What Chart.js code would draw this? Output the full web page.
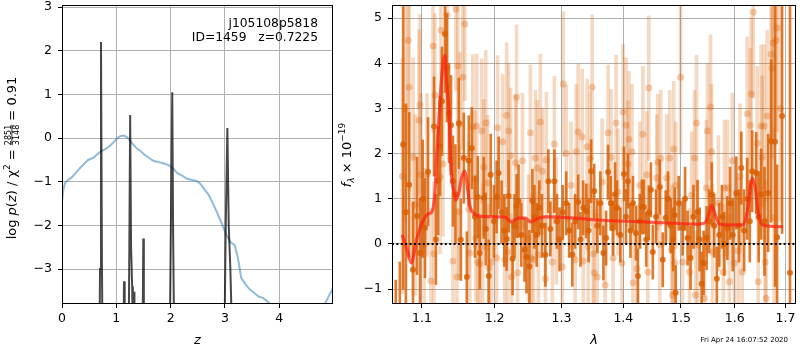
<!DOCTYPE html>
<html>
<head>
<meta charset="utf-8">
<script src="https://cdn.jsdelivr.net/npm/chart.js@4/dist/chart.umd.min.js"></script>
<style>
  html, body { margin: 0; padding: 0; background: #fff; }
  #wrap { position: relative; width: 800px; height: 350px; }
  canvas { position: absolute; top: 0; }
</style>
</head>
<body>
<div id="wrap">
  <canvas id="pz" width="335" height="350" style="left:0;width:335px;height:350px"></canvas>
  <canvas id="spec" width="465" height="350" style="left:335px;width:465px;height:350px"></canvas>
</div>
<script>
// ---- redshift panel: log p(z) and the smooth chi2 curve ----
const zGrid = [0, 0.03, 0.06, 0.12, 0.18, 0.25, 0.32, 0.4, 0.48, 0.58,
  0.64, 0.72, 0.8, 0.88, 0.96, 1.02, 1.08, 1.14, 1.2, 1.26,
  1.32, 1.38, 1.45, 1.52, 1.6, 1.68, 1.78, 1.88, 1.98, 2.05,
  2.12, 2.2, 2.3, 2.4, 2.48, 2.55, 2.62, 2.7, 2.78, 2.86,
  2.94, 3.02, 3.1, 3.18, 3.24, 3.3, 3.38, 3.46, 3.54, 3.62,
  3.7, 3.78, 3.86, 3.95, 4.2, 4.5, 4.84, 4.99];
const chiCurve = [-1.45, -1.15, -1.02, -0.95, -0.9, -0.8, -0.7, -0.6, -0.5, -0.45,
  -0.38, -0.3, -0.25, -0.18, -0.08, 0.0, 0.05, 0.06, 0.02, -0.07,
  -0.16, -0.24, -0.3, -0.38, -0.45, -0.52, -0.55, -0.58, -0.63, -0.7,
  -0.8, -0.85, -0.93, -0.96, -0.98, -1.05, -1.17, -1.3, -1.5, -1.72,
  -1.95, -2.2, -2.38, -2.45, -2.75, -3.2, -3.35, -3.47, -3.55, -3.63,
  -3.66, -3.74, -3.83, -3.95, -4.3, -4.4, -3.8, -3.43];

const zFine = [0.00, 0.60, 0.685, 0.70, 0.718, 0.736, 0.752, 0.85, 1.12, 1.135,
  1.142, 1.149, 1.16, 1.20, 1.225, 1.240, 1.255, 1.272, 1.292, 1.305,
  1.318, 1.326, 1.334, 1.345, 1.45, 1.487, 1.497, 1.507, 1.55, 1.90,
  1.985, 2.005, 2.03, 2.045, 2.065, 2.20, 2.95, 2.995, 3.015, 3.045,
  3.07, 3.10, 3.125, 3.25, 4.99];
const logPz = [-12, -9, -5.5, -3.0, 2.2, -3.0, -5.5, -9, -6, -4.2,
  -3.28, -4.2, -6, -7, -5.0, -2.5, 0.53, -2.5, -3.4, -4.6,
  -4.2, -3.52, -4.2, -6, -6, -4.0, -2.3, -4.0, -7, -7,
  -4.6, -2.0, 1.05, -2.0, -4.6, -8, -8, -4.2, -2.0, 0.23,
  -2.0, -3.0, -4.2, -8, -14];

const zTicks = [0, 1, 2, 3, 4];
const pzTicks = [-3, -2, -1, 0, 1, 2, 3];

// ---- spectrum panel ----
const lamDark = [
  1.0660, 1.0712, 1.0755, 1.0790, 1.0832, 1.0882, 1.0934, 1.0974, 1.1010, 1.1040, 1.1080, 1.1160,
  1.1185, 1.1215, 1.1240, 1.1266, 1.1307, 1.1334, 1.1362, 1.1389, 1.1416, 1.1450, 1.1496, 1.1524,
  1.1565, 1.1607, 1.1634, 1.1676, 1.1720, 1.1760, 1.1788, 1.1845, 1.1873, 1.1916, 1.1944, 1.1990,
  1.2029, 1.2058, 1.2100, 1.2140, 1.2174, 1.2203, 1.2261, 1.2290, 1.2320, 1.2349, 1.2390, 1.2437,
  1.2467, 1.2511, 1.2556, 1.2586, 1.2620, 1.2660, 1.2700, 1.2752, 1.2798, 1.2828, 1.2890, 1.2930,
  1.2970, 1.3020, 1.3075, 1.3120, 1.3170, 1.3215, 1.3263, 1.3300, 1.3343, 1.3391, 1.3430, 1.3471,
  1.3520, 1.3570, 1.3620, 1.3670, 1.3714, 1.3747, 1.3790, 1.3829, 1.3862, 1.3895, 1.3950, 1.4011,
  1.4045, 1.4078, 1.4120, 1.4162, 1.4213, 1.4247, 1.4280, 1.4315, 1.4349, 1.4390, 1.4434, 1.4470,
  1.4503, 1.4560, 1.4624, 1.4677, 1.4729, 1.4770, 1.4817, 1.4860, 1.4888, 1.4906, 1.4960, 1.5031,
  1.5075, 1.5120, 1.5174, 1.5227, 1.5301, 1.5340, 1.5376, 1.5413, 1.5469, 1.5515, 1.5564, 1.5610,
  1.5659, 1.5705, 1.5755, 1.5800, 1.5858, 1.5910, 1.5960, 1.6029, 1.6080, 1.6125, 1.6180, 1.6240,
  1.6290, 1.6337, 1.6415, 1.6465, 1.6512, 1.6580, 1.6652, 1.6711, 1.6791, 1.6831, 1.6932, 1.7093];
const fluxDark = [
  -2.2, -1.9, 2.2, 0.7, 1.31, -0.57, 0.62, -0.2, 1.0, 0.35, 1.6, 2.6,
  0.1, 1.4, 2.17, 3.16, 4.65, 3.9, 2.9, 2.63, 1.39, 1.1, 2.67, 0.09,
  1.9, -0.73, 1.84, 2.12, 0.6, 1.04, -0.2, 1.02, 0.33, -0.71, 1.53, 0.5,
  1.04, 1.57, 0.7, 0.3, 0.11, 1.06, -0.33, 0.4, 0.84, 0.95, 0.2, -0.13,
  -0.29, -0.5, 0.95, 0.6, 0.2, 0.8, 0.4, -0.24, 1.39, 0.33, 1.39, 0.5,
  0.1, 0.7, 0.9, 0.3, -0.24, 0.5, 0.93, 0.1, 0.8, 0.73, 0.3, 1.61,
  1.17, 0.4, 0.9, -0.2, 0.13, 1.59, 0.9, 0.35, 1.1, 0.8, 0.2, 1.55,
  0.6, 1.39, 0.3, 0.9, 0.24, -0.71, 0.5, 0.82, 0.82, 0.1, 0.69, 1.2,
  -0.18, 0.6, 1.26, -0.35, 0.58, 1.0, 0.4, 0.1, 0.64, -1.08, 0.9, 0.35,
  1.0, 0.13, -0.31, 0.6, 0.71, 0.1, -0.88, -0.42, 0.13, 0.5, 1.1, 0.4,
  -0.77, 0.2, 0.6, 0.0, 0.35, 0.9, 0.2, 1.13, 0.4, 1.68, 0.3, 1.0,
  0.5, 1.61, 1.57, 0.6, 1.1, 0.5, 1.13, 2.28, 2.26, 0.15, 2.83, -0.64];
const errDark = [
  1.4, 1.5, 3.2, 2.4, 1.6, 1.5, 1.3, 1.2, 1.3, 1.1, 1.2, 1.1,
  1.0, 1.2, 1.1, 1.2, 1.3, 1.2, 1.1, 1.1, 1.0, 1.1, 1.0, 0.9,
  1.0, 1.0, 1.0, 0.9, 0.9, 0.9, 0.8, 0.9, 0.8, 0.8, 0.9, 0.8,
  0.8, 0.8, 0.7, 0.8, 0.7, 0.8, 0.8, 0.7, 0.7, 0.8, 0.7, 0.7,
  0.8, 0.8, 0.7, 0.7, 0.7, 0.6, 0.7, 0.7, 0.7, 0.6, 0.7, 0.6,
  0.7, 0.6, 0.7, 0.6, 0.7, 0.6, 0.6, 0.6, 0.6, 0.6, 0.7, 0.7,
  0.6, 0.6, 0.7, 0.6, 0.6, 0.6, 0.6, 0.6, 0.7, 0.6, 0.6, 0.6,
  0.6, 0.6, 0.6, 0.6, 0.6, 0.6, 0.6, 0.6, 0.6, 0.6, 0.6, 0.6,
  0.6, 0.6, 0.6, 0.6, 0.6, 0.6, 0.6, 0.7, 0.6, 0.6, 0.6, 0.6,
  0.7, 0.6, 0.7, 0.7, 0.7, 0.7, 0.7, 0.7, 0.7, 0.7, 0.7, 0.7,
  0.7, 0.7, 0.7, 0.7, 0.7, 0.8, 0.8, 0.8, 0.8, 0.8, 0.9, 0.9,
  0.9, 0.9, 0.9, 1.0, 1.0, 1.2, 1.3, 1.8, 3.2, 1.6, 2.6, 6.5];

const lamLight = [
  1.0745, 1.0780, 1.0819, 1.0832, 1.0884, 1.0910, 1.0961, 1.0974, 1.0987, 1.1027, 1.1066, 1.1119,
  1.1146, 1.1159, 1.1172, 1.1239, 1.1253, 1.1280, 1.1334, 1.1416, 1.1456, 1.1470, 1.1483, 1.1497,
  1.1510, 1.1551, 1.1579, 1.1634, 1.1648, 1.1690, 1.1718, 1.1732, 1.1746, 1.1760, 1.1788, 1.1816,
  1.1830, 1.1845, 1.1873, 1.1901, 1.1916, 1.1958, 1.2029, 1.2043, 1.2116, 1.2145, 1.2174, 1.2188,
  1.2203, 1.2232, 1.2246, 1.2305, 1.2319, 1.2334, 1.2407, 1.2496, 1.2526, 1.2541, 1.2571, 1.2601,
  1.2631, 1.2646, 1.2676, 1.2707, 1.2752, 1.2767, 1.2859, 1.2890, 1.2921, 1.3014, 1.3029, 1.3076,
  1.3150, 1.3216, 1.3232, 1.3263, 1.3327, 1.3343, 1.3407, 1.3423, 1.3455, 1.3487, 1.3503, 1.3519,
  1.3568, 1.3649, 1.3698, 1.3747, 1.3796, 1.3829, 1.3879, 1.3911, 1.3978, 1.3995, 1.4045, 1.4078,
  1.4095, 1.4146, 1.4163, 1.4230, 1.4281, 1.4332, 1.4400, 1.4417, 1.4434, 1.4572, 1.4589, 1.4624,
  1.4642, 1.4747, 1.4800, 1.4835, 1.4853, 1.4871, 1.4888, 1.4906, 1.4995, 1.5031, 1.5156, 1.5193,
  1.5247, 1.5265, 1.5283, 1.5302, 1.5429, 1.5466, 1.5485, 1.5541, 1.5559, 1.5578, 1.5689, 1.5783,
  1.5802, 1.5858, 1.5896, 1.5953, 1.5991, 1.6067, 1.6100, 1.6144, 1.6241, 1.6299, 1.6318, 1.6357,
  1.6435, 1.6454, 1.6513, 1.6533, 1.6572, 1.6592, 1.6612, 1.6632, 1.6711, 1.6731, 1.6751, 1.6771,
  1.6811, 1.6831, 1.6900];
const fluxLight = [
  1.5, 3.0, 4.51, 3.47, 1.92, 0.86, 2.74, 3.08, 1.53, -0.02, 1.53, -0.82,
  4.38, -0.22, 3.3, 1.48, 4.73, 1.77, 5.07, -0.38, 5.2, -0.73, 3.94, 0.71,
  2.65, 3.69, 4.87, 0.77, -0.2, 2.59, 1.44, 0.13, 2.61, -0.4, -0.44, 2.5,
  -0.07, 1.7, 2.68, 1.35, -0.53, -0.4, -0.31, 2.57, 2.26, -0.35, 2.85, -0.18,
  2.5, 1.95, -0.73, 1.8, 3.25, -0.64, 1.84, 0.13, 2.46, -0.31, -0.35, 1.9,
  1.68, -0.24, 2.7, 1.61, -0.77, 1.86, -0.4, 2.21, 0.51, -0.51, 3.54, 2.01,
  1.3, -0.35, 2.04, 2.48, 2.37, -0.38, 2.15, -0.07, 1.88, 3.47, -0.22, -0.64,
  -0.73, 1.37, -0.91, 2.46, 1.92, -0.31, 2.68, 1.15, -0.42, 2.92, 2.63, 1.77,
  2.32, 2.04, -0.86, -0.55, 1.3, 2.43, 1.53, -0.62, 3.45, 1.46, 1.81, -0.02,
  1.9, 1.46, 1.9, -0.11, -1.13, 2.1, -0.42, 1.3, 3.69, -0.4, -0.62, 1.08,
  1.9, -1.13, 2.68, -0.02, -1.2, 1.24, 2.5, 3.03, 2.04, -0.18, 0.9, -0.62,
  1.24, 1.24, -0.84, 1.84, -0.42, -0.15, 1.5, -0.62, 2.88, 2.63, 3.32, 5.13,
  2.23, -0.84, 2.61, 1.92, 2.61, -0.4, -1.2, 2.83, 4.2, 3.89, 4.45, 0.58,
  4.51, 4.78, 3.0];
const errLight = [
  2.6, 2.5, 2.5, 2.3, 2.2, 2.0, 2.0, 2.0, 1.8, 1.7, 1.8, 1.6,
  1.9, 1.6, 1.8, 1.7, 1.8, 1.6, 1.8, 1.5, 1.8, 1.5, 1.7, 1.5,
  1.6, 1.6, 1.7, 1.5, 1.4, 1.6, 1.5, 1.4, 1.6, 1.4, 1.4, 1.6,
  1.4, 1.5, 1.6, 1.5, 1.4, 1.4, 1.4, 1.6, 1.5, 1.4, 1.6, 1.4,
  1.5, 1.5, 1.4, 1.5, 1.6, 1.4, 1.5, 1.4, 1.5, 1.4, 1.4, 1.5,
  1.5, 1.4, 1.5, 1.4, 1.4, 1.5, 1.4, 1.5, 1.4, 1.4, 1.6, 1.5,
  1.4, 1.4, 1.5, 1.5, 1.5, 1.4, 1.5, 1.4, 1.5, 1.6, 1.4, 1.4,
  1.4, 1.4, 1.4, 1.5, 1.5, 1.4, 1.5, 1.4, 1.4, 1.5, 1.5, 1.4,
  1.5, 1.5, 1.4, 1.4, 1.4, 1.5, 1.4, 1.4, 1.6, 1.4, 1.5, 1.4,
  1.5, 1.4, 1.5, 1.4, 1.4, 1.5, 1.4, 1.4, 1.7, 1.4, 1.4, 1.4,
  1.5, 1.4, 1.5, 1.4, 1.5, 1.5, 1.5, 1.6, 1.5, 1.5, 1.5, 1.5,
  1.5, 1.5, 1.5, 1.5, 1.5, 1.6, 1.6, 1.6, 1.7, 1.7, 1.7, 1.9,
  1.7, 1.7, 1.8, 1.8, 1.8, 1.8, 1.8, 1.9, 2.0, 2.0, 2.1, 2.0,
  2.2, 2.3, 2.5];

const lamModel = [1.0742, 1.0800, 1.0858, 1.0935, 1.1013, 1.1079, 1.1132, 1.1172, 1.1199, 1.1239,
  1.1280, 1.1307, 1.1321, 1.1361, 1.1389, 1.1430, 1.1456, 1.1497, 1.1537, 1.1579,
  1.1607, 1.1648, 1.1718, 1.1774, 1.2014, 1.2140, 1.2246, 1.2349, 1.2452, 1.2526,
  1.2646, 1.2767, 1.3232, 1.3568, 1.4366, 1.5320, 1.5429, 1.5503, 1.5559, 1.5633,
  1.5708, 1.5858, 1.6144, 1.6241, 1.6299, 1.6337, 1.6396, 1.6454, 1.6533, 1.6952];
const fluxModel = [0.2, -0.1, -0.42, 0.13, 0.51, 0.66, 0.71, 1.15, 2.04, 3.14,
  4.0, 4.18, 3.8, 2.92, 1.68, 1.15, 0.97, 1.15, 1.48, 1.61,
  1.37, 0.86, 0.66, 0.62, 0.6, 0.6, 0.49, 0.57, 0.57, 0.49,
  0.57, 0.6, 0.57, 0.53, 0.49, 0.44, 0.46, 0.64, 0.86, 0.64,
  0.44, 0.42, 0.42, 0.71, 1.24, 1.46, 1.24, 0.71, 0.42, 0.38];

const lamTicks = [1.1, 1.2, 1.3, 1.4, 1.5, 1.6, 1.7];
const fluxTicks = [-1, 0, 1, 2, 3, 4, 5];
const lamRange = [1.0612, 1.7217];

// ---- shared helpers ----
const FONT = "'DejaVu Sans', sans-serif";
Chart.defaults.font.family = FONT;
Chart.defaults.color = '#000';

const minus = v => (v < 0 ? '\u2212' + Math.abs(v) : String(v));
const pinTicks = vals => s => { s.ticks = vals.map(v => ({ value: v })); };
const pts = (xs, ys) => xs.map((x, i) => ({ x, y: ys[i] }));
const bars = (xs, ys, es) => xs.map((x, i) => ({ x, y: [ys[i] - es[i], ys[i] + es[i]] }));

const gridOpts = { color: '#b0b0b0', lineWidth: 1, tickColor: '#000', tickLength: 4, offset: false };
const tickFont = { family: FONT, size: 12.5 };

// draws rotated (bottom-to-top) text made of runs of different fonts
function vText(ctx, runs, x, yc) {
  ctx.save();
  ctx.translate(x, yc);
  ctx.rotate(-Math.PI / 2);
  ctx.fillStyle = '#000';
  ctx.textBaseline = 'alphabetic';
  const widthOf = r => {
    ctx.font = r.font;
    if (r.frac) return Math.max(...r.frac.map(s => ctx.measureText(s).width));
    return ctx.measureText(r.text).width;
  };
  const total = runs.reduce((s, r) => s + widthOf(r), 0);
  let pos = -total / 2;
  runs.forEach(r => {
    const w = widthOf(r);
    ctx.font = r.font;
    if (r.frac) {
      ctx.textAlign = 'center';
      ctx.fillText(r.frac[0], pos + w / 2, -5);
      ctx.fillText(r.frac[1], pos + w / 2, 3.5);
      ctx.fillRect(pos, -4, w, 0.8);
    } else {
      ctx.textAlign = 'left';
      ctx.fillText(r.text, pos, r.dy || 0);
    }
    pos += w;
  });
  ctx.restore();
}

const frame = {
  id: 'frame',
  afterDraw(chart) {
    const { ctx, chartArea: a } = chart;
    ctx.save();
    ctx.strokeStyle = '#000';
    ctx.lineWidth = 1;
    ctx.strokeRect(a.left + 0.5, a.top + 0.5, a.right - a.left - 1, a.bottom - a.top - 1);
    ctx.restore();
  }
};

const N13 = `13px ${FONT}`, I13 = `italic 13px ${FONT}`;

const pzNotes = {
  id: 'pzNotes',
  afterDraw(chart) {
    const { ctx, chartArea: a } = chart;
    ctx.save();
    ctx.fillStyle = '#000';
    ctx.font = `12.3px ${FONT}`;
    ctx.textAlign = 'right';
    ctx.fillText('j105108p5818', a.right - 15, 27);
    ctx.fillText('ID=1459   z=0.7225', a.right - 15, 41);
    ctx.restore();
    vText(ctx, [
      { text: 'log ', font: N13 }, { text: 'p', font: I13 }, { text: '(', font: N13 },
      { text: 'z', font: I13 }, { text: ') / ', font: N13 }, { text: 'χ', font: N13 },
      { text: '2', font: `9px ${FONT}`, dy: -6 }, { text: ' = ', font: N13 },
      { frac: ['2851', '3148'], font: `8px ${FONT}` }, { text: ' = 0.91', font: N13 }
    ], 15.5, 158);
  }
};

const specNotes = {
  id: 'specNotes',
  afterDraw(chart) {
    const { ctx } = chart;
    vText(ctx, [
      { text: 'f', font: I13 }, { text: 'λ', font: `italic 9px ${FONT}`, dy: 3 },
      { text: ' × 10', font: N13 }, { text: '\u221219', font: `9px ${FONT}`, dy: -6 }
    ], 16, 155);
    ctx.save();
    ctx.fillStyle = '#000';
    ctx.font = `7px ${FONT}`;
    ctx.textAlign = 'right';
    ctx.fillText('Fri Apr 24 16:07:52 2020', 453, 342);
    ctx.restore();
  }
};

// ---- left: p(z) ----
new Chart(document.getElementById('pz'), {
  type: 'line',
  data: {
    datasets: [
      { data: pts(zFine, logPz), borderColor: 'rgba(0,0,0,0.72)', borderWidth: 2,
        pointRadius: 0, tension: 0, clip: 0, order: 0 },
      { data: pts(zGrid, chiCurve), borderColor: 'rgba(31,119,180,0.5)', borderWidth: 2,
        pointRadius: 0, tension: 0, clip: 0, order: 1 }
    ]
  },
  options: {
    responsive: false, animation: false, devicePixelRatio: 1,
    layout: { padding: { left: 0, right: 2, top: 5, bottom: 0 } },
    plugins: { legend: { display: false }, tooltip: { enabled: false } },
    scales: {
      x: {
        type: 'linear', min: 0, max: 4.99, bounds: 'data',
        afterBuildTicks: pinTicks(zTicks),
        afterFit: s => { s.height = 46; s.paddingLeft = 0; s.paddingRight = 0; },
        grid: gridOpts, border: { display: false },
        ticks: { font: tickFont, color: '#000', padding: 3, maxRotation: 0, autoSkip: false, callback: v => minus(v) },
        title: { display: true, text: 'z', color: '#000', font: { family: FONT, size: 13, style: 'italic' }, padding: { top: 0, bottom: 2 } }
      },
      y: {
        type: 'linear', min: -3.8, max: 3.05, bounds: 'data',
        afterBuildTicks: pinTicks(pzTicks),
        afterFit: s => { s.width = 62; s.paddingTop = 0; s.paddingBottom = 0; },
        grid: gridOpts, border: { display: false },
        ticks: { font: tickFont, color: '#000', padding: 6, autoSkip: false, callback: v => minus(v) }
      }
    }
  },
  plugins: [frame, pzNotes]
});

// ---- right: 1D spectrum ----
const DARK = 'rgba(217,95,2,0.82)';
new Chart(document.getElementById('spec'), {
  type: 'bar',
  data: {
    datasets: [
      { type: 'line', data: pts(lamRange, [0, 0]), borderColor: '#000', borderWidth: 2,
        borderDash: [2, 2.4], pointRadius: 0, clip: 0, order: 0 },
      { type: 'line', data: pts(lamModel, fluxModel), borderColor: 'rgba(255,30,15,0.7)', borderWidth: 3.2,
        pointRadius: 0, cubicInterpolationMode: 'monotone', clip: 0, order: 1 },
      { type: 'line', showLine: false, data: pts(lamDark, fluxDark), pointRadius: 3,
        pointBackgroundColor: DARK, pointBorderWidth: 0, clip: 0, order: 2 },
      { type: 'bar', data: bars(lamDark, fluxDark, errDark), backgroundColor: DARK,
        borderWidth: 0, barThickness: 2, grouped: false, clip: 0, order: 3 },
      { type: 'line', showLine: false, data: pts(lamLight, fluxLight), pointRadius: 3.5,
        pointBackgroundColor: 'rgba(217,95,2,0.3)', pointBorderWidth: 0, clip: 0, order: 4 },
      { type: 'bar', data: bars(lamLight, fluxLight, errLight), backgroundColor: 'rgba(217,95,2,0.24)',
        borderWidth: 0, barThickness: 3, grouped: false, clip: 0, order: 5 }
    ]
  },
  options: {
    responsive: false, animation: false, devicePixelRatio: 1,
    layout: { padding: { left: 0, right: 2, top: 5, bottom: 0 } },
    plugins: { legend: { display: false }, tooltip: { enabled: false } },
    scales: {
      x: {
        type: 'logarithmic', min: lamRange[0], max: lamRange[1], bounds: 'data', offset: false,
        afterBuildTicks: pinTicks(lamTicks),
        afterFit: s => { s.height = 46; s.paddingLeft = 0; s.paddingRight = 0; },
        grid: gridOpts, border: { display: false },
        ticks: { font: tickFont, color: '#000', padding: 3, maxRotation: 0, autoSkip: false, callback: v => Number(v).toFixed(1) },
        title: { display: true, text: 'λ', color: '#000', font: { family: FONT, size: 13, style: 'italic' }, padding: { top: 0, bottom: 2 } }
      },
      y: {
        type: 'linear', min: -1.33, max: 5.29, bounds: 'data',
        afterBuildTicks: pinTicks(fluxTicks),
        afterFit: s => { s.width = 57; s.paddingTop = 0; s.paddingBottom = 0; },
        grid: gridOpts, border: { display: false },
        ticks: { font: tickFont, color: '#000', padding: 6, autoSkip: false, callback: v => minus(v) }
      }
    }
  },
  plugins: [frame, specNotes]
});
</script>
</body>
</html>
